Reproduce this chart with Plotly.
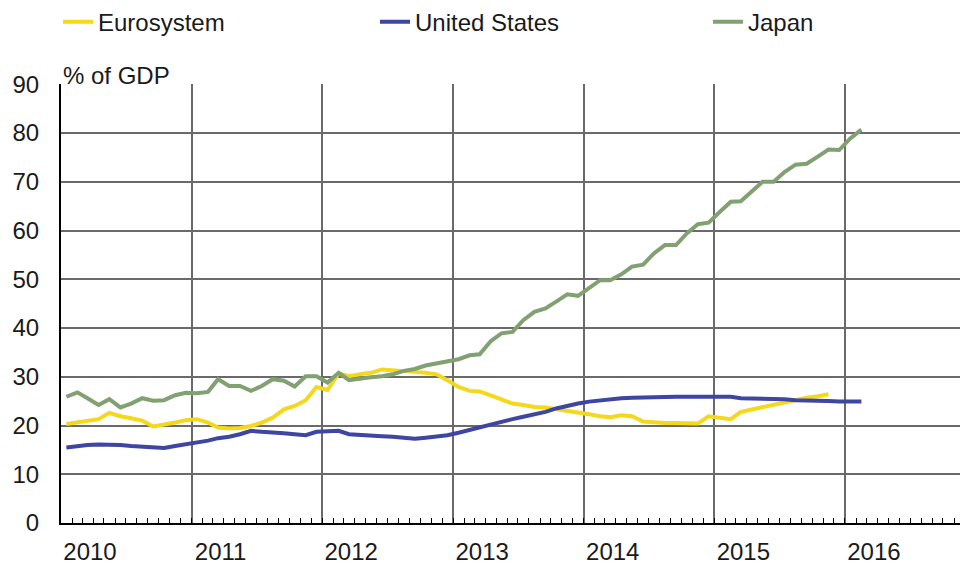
import pandas as pd
import plotly.graph_objects as go

# monthly observations, starting January 2010
months = pd.period_range("2010-01", periods=74, freq="M")

eurosystem = [
    20.3, 20.6, 21.0, 21.3, 22.6, 21.9, 21.5, 21.0, 19.8, 20.1, 20.6, 21.1,
    21.3, 20.6, 19.6, 19.4, 19.5, 19.9, 20.6, 21.6, 23.3, 24.0, 25.2, 27.9,
    27.3, 30.7, 30.1, 30.5, 30.8, 31.5, 31.4, 31.2, 31.0, 30.8, 30.5, 29.3,
    27.9, 27.1, 27.0, 26.2, 25.4, 24.5, 24.2, 23.8, 23.7, 23.4, 23.0, 22.8,
    22.3, 21.9, 21.7, 22.1, 21.9, 20.8, 20.6, 20.5, 20.5, 20.5, 20.4, 21.9,
    21.5, 21.3, 22.8, 23.3, 23.8, 24.4, 24.9, 25.4, 25.7, 26.0, 26.4,
]
united_states = [
    15.5, 15.8, 16.0, 16.1, 16.1, 16.0, 15.8, 15.6, 15.4, 15.4, 15.8, 16.1,
    16.5, 16.9, 17.4, 17.7, 18.2, 18.9, 18.7, 18.6, 18.4, 18.2, 18.0, 18.7,
    18.9, 18.9, 18.2, 18.0, 17.8, 17.8, 17.7, 17.6, 17.3, 17.5, 17.7, 18.0,
    18.5, 19.1, 19.6, 20.2, 20.9, 21.3, 21.8, 22.3, 22.8, 23.5, 24.1, 24.5,
    24.9, 25.2, 25.4, 25.6, 25.7, 25.8, 25.8, 25.8, 25.9, 25.9, 26.0, 25.9,
    25.9, 25.9, 25.6, 25.6, 25.4, 25.4, 25.4, 25.2, 25.2, 25.1, 25.0, 24.9,
    24.9, 24.9,
]
japan = [
    25.9, 26.8, 25.6, 24.2, 25.4, 23.7, 24.5, 25.6, 25.1, 25.2, 26.2, 26.7,
    26.6, 26.9, 29.5, 28.1, 28.1, 27.1, 28.1, 29.5, 29.2, 28.0, 30.1, 30.1,
    28.8, 30.8, 29.3, 29.7, 29.9, 30.1, 30.5, 31.2, 31.6, 32.3, 32.7, 33.2,
    33.6, 34.4, 34.6, 37.3, 38.9, 39.2, 41.6, 43.3, 44.0, 45.4, 46.9, 46.6,
    48.1, 49.8, 49.8, 51.0, 52.6, 53.0, 55.3, 57.0, 57.0, 59.4, 61.3, 61.6,
    63.8, 65.9, 66.0, 67.9, 70.0, 70.0, 72.0, 73.5, 73.7, 75.1, 76.6, 76.5,
    78.9, 80.7,
]

# points sit in the middle of each month
x = months.to_timestamp() + pd.Timedelta(days=15)

FONT = "Liberation Sans, Arial, sans-serif"
series = [
    ("Eurosystem", eurosystem, "#F4D81C", "legend"),
    ("United States", united_states, "#3E45A2", "legend2"),
    ("Japan", japan, "#82A172", "legend3"),
]

fig = go.Figure()
for name, vals, col, leg in series:
    fig.add_trace(go.Scatter(
        x=x[:len(vals)], y=vals, mode="lines", name=name, legend=leg,
        line=dict(color=col, width=4),
    ))

# one legend per series so the entries spread across the top like the original
leg_style = dict(orientation="h", xanchor="left", y=1.141, yanchor="middle",
                 font=dict(size=24), bgcolor="rgba(0,0,0,0)")

# page body has an 8px margin, so the figure is 8px smaller than the window
fig.update_layout(
    width=960, height=556,
    margin=dict(l=53, r=0, t=76, b=41, autoexpand=False),
    paper_bgcolor="white", plot_bgcolor="white",
    font=dict(family=FONT, size=24, color="#1a1a1a"),
    showlegend=True,
    legend=dict(x=-0.0033, **leg_style),
    legend2=dict(x=0.3462, **leg_style),
    legend3=dict(x=0.7133, **leg_style),
    annotations=[dict(
        text="% of GDP", xref="paper", yref="paper", x=0, y=1.0205,
        xanchor="left", yanchor="middle", showarrow=False,
        font=dict(size=24),
    )],
)

fig.update_xaxes(
    type="date", range=["2010-01-01", "2016-12-10"],
    tick0="2010-01-01", dtick="M12", tickformat="%Y",
    ticks="inside", ticklen=5, tickcolor="black",
    ticklabelshift=29, ticklabelstandoff=6, automargin=False,
    showgrid=True, gridcolor="#6a6a6a", gridwidth=1.5,
    showline=True, linecolor="black", linewidth=2,
    minor=dict(dtick="M1", tick0="2010-01-01", ticks="inside",
               ticklen=5, tickcolor="black", showgrid=False),
)
fig.update_yaxes(
    range=[0, 90.05], dtick=10, tick0=0, automargin=False,
    showgrid=True, gridcolor="#6a6a6a", gridwidth=1.5,
    showline=True, linecolor="black", linewidth=2,
    zeroline=False, ticks="", ticklabelstandoff=15,
)

fig.write_html("out.html")
